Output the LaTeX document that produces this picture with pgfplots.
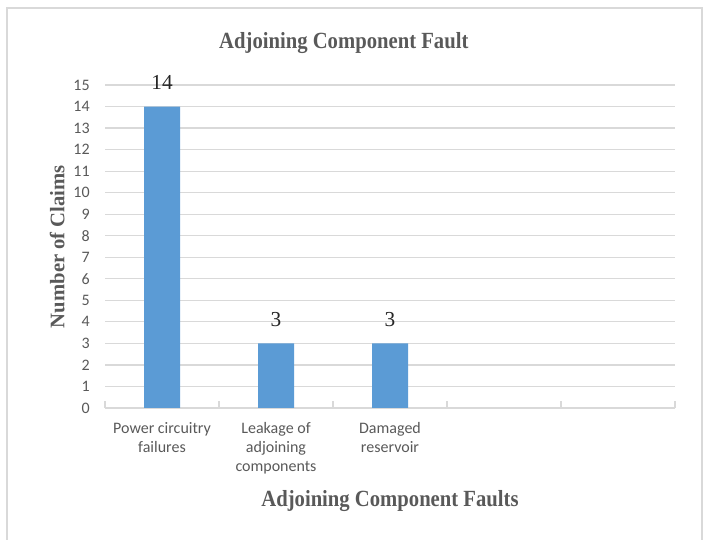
\documentclass[border=0pt]{standalone}
\usepackage{pgfplots}
\pgfplotsset{compat=1.18}
\usepackage{fontspec}
\setmainfont{Liberation Serif}
\newfontfamily\calibri{Carlito}
\definecolor{barblue}{HTML}{5B9BD5}
\definecolor{gridgray}{HTML}{D9D9D9}
\definecolor{txtgray}{HTML}{595959}
\definecolor{framegray}{HTML}{D9D9D9}

\pgfplotstableread{
x n
0 14
1 3
2 3
}\claims

\begin{document}
\begin{tikzpicture}
% page extent and chart frame
\path (0pt,0pt) rectangle (530.25pt,405pt);
\draw[framegray,line width=1.5pt] (5.25pt,0pt) -- (5.25pt,399pt) -- (526.5pt,399pt) -- (526.5pt,0pt);
\begin{axis}[
  at={(78.75pt,99pt)}, anchor=south west,
  scale only axis,
  width=427.5pt, height=242.25pt,
  xmin=-0.5, xmax=4.5,
  ymin=0, ymax=15,
  ytick={0,...,15},
  xtick={0,1,2,3,4},
  xticklabels={Power circuitry\\failures,Leakage of\\adjoining\\components,Damaged\\reservoir,,},
  minor xtick={-0.5,0.5,1.5,2.5,3.5,4.5},
  xticklabel style={align=center,font=\calibri\fontsize{12}{14.25}\selectfont,text=txtgray,yshift=-7pt},
  yticklabel style={font=\calibri\fontsize{12}{13}\selectfont,text=txtgray,xshift=-8pt},
  /pgf/number format/assume math mode=true,
  major x tick style={draw=none},
  minor x tick style={draw=gridgray,line width=0.9pt},
  minor tick length=5pt,
  ytick style={draw=none},
  axis x line*=bottom,
  axis y line*=left,
  y axis line style={draw=none},
  x axis line style={draw=gridgray,line width=0.9pt,-},
  ymajorgrids,
  major grid style={draw=gridgray,line width=0.9pt},
  title={Adjoining Component Fault},
  title style={font=\fontsize{15.5}{18}\selectfont\bfseries,text=txtgray,yscale=1.12,
    at={(axis description cs:0.419,1)},anchor=center,yshift=23pt},
  xlabel={Adjoining Component Faults},
  ylabel={Number of Claims},
  label style={font=\fontsize{15.5}{18}\selectfont\bfseries,text=txtgray},
  xlabel style={yshift=-5pt,yscale=1.12},
  ylabel style={at={(axis description cs:-0.084,0.5)},anchor=center},
  clip=false,
  nodes near coords,
  nodes near coords style={font=\fontsize{16}{18}\selectfont,text=black!85,yshift=9pt},
]
\addplot[ybar,bar width=27pt,fill=barblue,draw=none] table[x=x,y=n]{\claims};
\end{axis}
\end{tikzpicture}
\end{document}
